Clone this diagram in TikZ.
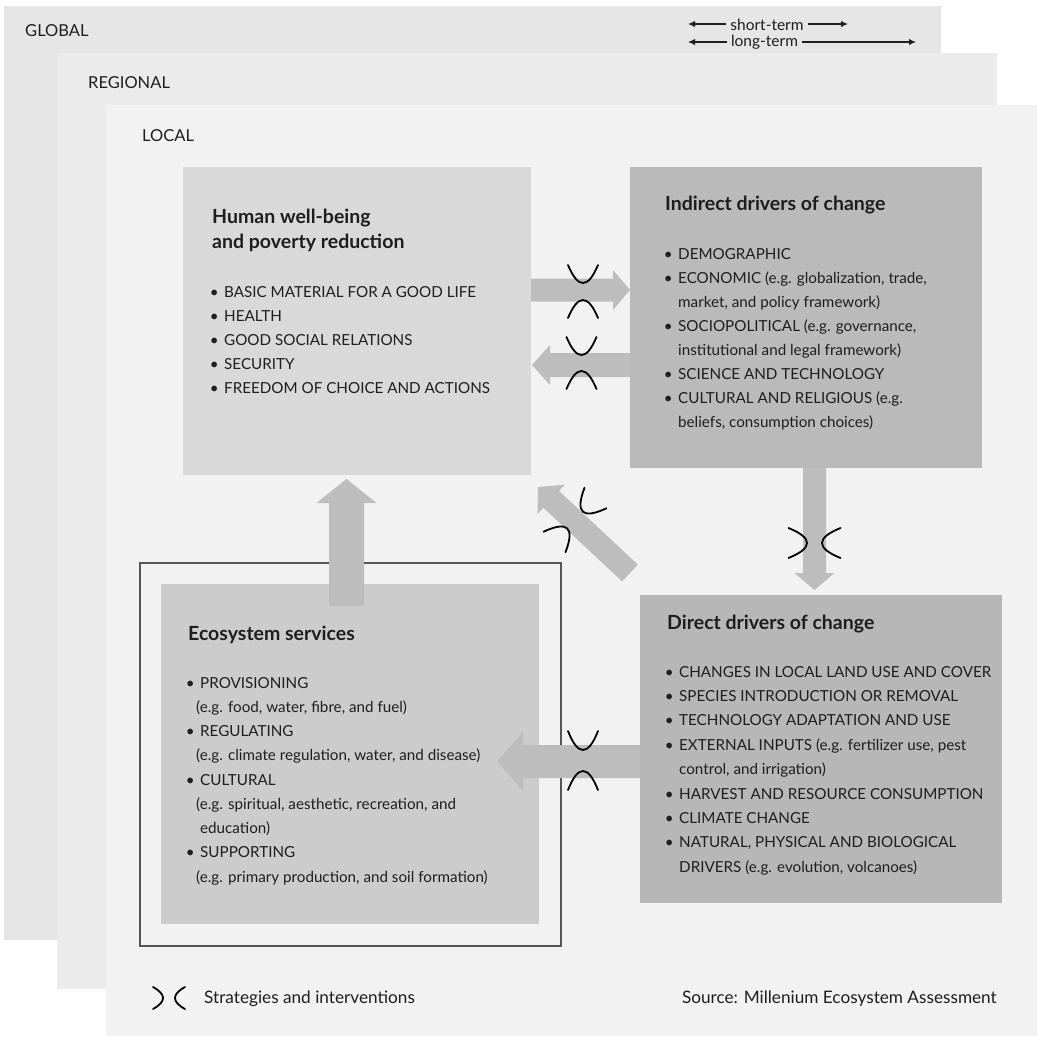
\documentclass[tikz,border=0pt]{standalone}
\usepackage{fontspec}
\setmainfont{Lato}
\usetikzlibrary{calc,arrows.meta}
\definecolor{gglobal}{HTML}{E6E6E6}
\definecolor{gregional}{HTML}{EBEBEB}
\definecolor{glocal}{HTML}{F2F2F2}
\definecolor{ghw}{HTML}{D9D9D9}
\definecolor{gind}{HTML}{BABABA}
\definecolor{gdir}{HTML}{B7B7B7}
\definecolor{geco}{HTML}{CCCCCC}
\definecolor{garrow}{HTML}{BDBDBD}
\definecolor{gframe}{HTML}{555555}
\definecolor{ink}{HTML}{1E1E1E}
\newcommand\fatarrow[5]{%
  \fill[garrow] ($(#1)!#3!90:(#2)$)
    -- ($(#2)!#5!(#1)!#3!90:(#2)$)
    -- ($(#2)!#5!(#1)!#4!90:(#2)$)
    -- (#2)
    -- ($(#2)!#5!(#1)!#4!-90:(#2)$)
    -- ($(#2)!#5!(#1)!#3!-90:(#2)$)
    -- ($(#1)!#3!-90:(#2)$) -- cycle;}
\newcommand\brkpair[6]{% cx cy angle voff eoff halfwidth
  \begin{scope}[shift={(#1,#2)},rotate=#3]
    \pgfmathsetmacro\brkC{(#5-4*#4)/3}
    \pgfmathsetmacro\brkN{-(#5-4*#4)/3}
    \pgfmathsetmacro\brkX{#6/3}
    \draw[brk] (-#6,-#5) .. controls (-\brkX,\brkC) and (\brkX,\brkC) .. (#6,-#5);
    \draw[brk] (-#6,#5) .. controls (-\brkX,\brkN) and (\brkX,\brkN) .. (#6,#5);
  \end{scope}}
\newcommand\bul{\llap{\textbullet\hspace{5.5pt}}}
\tikzset{
  panel/.style={rectangle, draw=none, inner sep=0pt, outer sep=0pt, anchor=north west},
  box/.style={rectangle, draw=none, inner sep=0pt, outer sep=0pt, anchor=north west},
  framebox/.style={rectangle, draw=gframe, line width=1.8pt, inner sep=0pt, outer sep=0pt, anchor=north west},
  lbl/.style={font=\fontsize{16.5}{19}\selectfont, text=ink, inner sep=0pt, anchor=base west},
  item/.style={font=\fontsize{15.2}{18}\selectfont, text=ink, inner sep=0pt, anchor=base west},
  foot/.style={font=\fontsize{17.2}{20}\selectfont, text=ink, inner sep=0pt, anchor=base west},
  ttl/.style={font=\fontsize{19.5}{24}\selectfont\bfseries, text=ink, inner sep=0pt, anchor=base west},
  brk/.style={draw=black, line width=1.8pt, line cap=round},
  termtxt/.style={font=\fontsize{15.5}{18}\selectfont, text=ink, inner ysep=0pt, inner xsep=4pt, anchor=base},
  termline/.style={draw=ink, line width=1.5pt, -{Latex[length=7pt,width=6.5pt]}},
}
\begin{document}
\begin{tikzpicture}[x=1pt,y=-1pt]
\useasboundingbox (0,0) rectangle (1037,1037);
\fill[white] (0,0) rectangle (1037,1037);
% scale panels
\node[panel, fill=gglobal, minimum width=937pt, minimum height=934pt] (glob) at (4,6) {};
\node[lbl] (globlbl) at (25,36) {GLOBAL};
\node[panel, fill=gregional, minimum width=940pt, minimum height=936pt] (reg) at (57,53) {};
\node[lbl] (reglbl) at (88,88) {REGIONAL};
\node[panel, fill=glocal, minimum width=931pt, minimum height=931pt] (loc) at (106,105) {};
\node[lbl] (loclbl) at (142,141) {LOCAL};
% time legend
\node[termtxt] (st) at (767,30) {short-term};
\node[termtxt] (lt) at (764.5,46) {long-term};
\coordinate (stl) at (688,24);
\coordinate (str) at (848,24);
\coordinate (ltl) at (688,42);
\coordinate (ltr) at (916,42);
\draw[termline] (st.west |- stl) -- (stl);
\draw[termline] (st.east |- str) -- (str);
\draw[termline] (lt.west |- ltl) -- (ltl);
\draw[termline] (lt.east |- ltr) -- (ltr);
% boxes
\node[framebox, fill=glocal, minimum width=421pt, minimum height=383pt] (frame) at (140,563) {};
\node[box, fill=ghw, minimum width=348pt, minimum height=308pt] (hw) at (183,167) {};
\node[box, fill=gind, minimum width=352pt, minimum height=301pt] (ind) at (630,167) {};
\node[box, fill=gdir, minimum width=362pt, minimum height=308pt] (dir) at (640,595) {};
\node[box, fill=geco, minimum width=378pt, minimum height=340pt] (eco) at (161,584) {};
% connectors
\coordinate (a1s) at (hw.east |- 0,290);
\coordinate (a1e) at (ind.west |- 0,290);
\coordinate (a2s) at (ind.west |- 0,365);
\coordinate (a2e) at (532,365);
\coordinate (a3s) at (814.5,0 |- ind.south);
\coordinate (a3e) at (814.5,590);
\coordinate (a4s) at (346.5,606);
\coordinate (a4e) at (346.5,479);
\coordinate (a5s) at (dir.west |- 0,761.5);
\coordinate (a5e) at (497,761.5);
\coordinate (a6s) at (630,573);
\coordinate (a6e) at (538,487);
\fatarrow{a1s}{a1e}{11.5pt}{20pt}{17pt}
\fatarrow{a2s}{a2e}{12pt}{20pt}{18pt}
\fatarrow{a3s}{a3e}{11.5pt}{20pt}{17pt}
\fatarrow{a4s}{a4e}{17.5pt}{30pt}{24pt}
\fatarrow{a5s}{a5e}{16.5pt}{29.5pt}{26pt}
\fatarrow{a6s}{a6e}{11.5pt}{20pt}{18pt}
% strategies and interventions marks
\brkpair{583}{291.5}{0}{8.5}{26.5}{15}
\brkpair{581.5}{363}{0}{8}{26}{15}
\brkpair{814.5}{543}{90}{7.5}{26}{15}
\brkpair{583}{760.5}{0}{10.5}{29.5}{15}
\brkpair{575}{520}{137}{11.5}{30}{15}
% titles
\node[ttl] (hwt1) at (212,223) {Human well-being};
\node[ttl] (hwt2) at (212,248) {and poverty reduction};
\node[ttl] (indt) at (665,210) {Indirect drivers of change};
\node[ttl] (dirt) at (667,629) {Direct drivers of change};
\node[ttl] (ecot) at (188,640) {Ecosystem services};
% lists
\foreach \t [count=\i from 0] in {BASIC MATERIAL FOR A GOOD LIFE, HEALTH, GOOD SOCIAL RELATIONS, SECURITY, FREEDOM OF CHOICE AND ACTIONS}
  \node[item] (hwl\i) at (224,297+24.1*\i) {\bul\t};
\foreach \t [count=\i from 0] in {{\bul DEMOGRAPHIC},{\bul ECONOMIC (e.g. globalization, trade,}, {market, and policy framework)}, {\bul SOCIOPOLITICAL (e.g. governance,}, {institutional and legal framework)}, {\bul SCIENCE AND TECHNOLOGY}, {\bul CULTURAL AND RELIGIOUS (e.g.}, {beliefs, consumption choices)}}
  \node[item] (indl\i) at (678,259+24.1*\i) {\t};
\foreach \t [count=\i from 0] in {{\bul CHANGES IN LOCAL LAND USE AND COVER}, {\bul SPECIES INTRODUCTION OR REMOVAL}, {\bul TECHNOLOGY ADAPTATION AND USE}, {\bul EXTERNAL INPUTS (e.g. fertilizer use, pest}, {control, and irrigation)}, {\bul HARVEST AND RESOURCE CONSUMPTION}, {\bul CLIMATE CHANGE}, {\bul NATURAL, PHYSICAL AND BIOLOGICAL}, {DRIVERS (e.g. evolution, volcanoes)}}
  \node[item] (dirl\i) at (679,677+24.4*\i) {\t};
\foreach \t [count=\i from 0] in {{\bul PROVISIONING}, {\hspace{-4pt}(e.g. food, water, fibre, and fuel)}, {\bul REGULATING}, {\hspace{-4pt}(e.g. climate regulation, water, and disease)}, {\bul CULTURAL}, {\hspace{-4pt}(e.g. spiritual, aesthetic, recreation, and}, {education)}, {\bul SUPPORTING}, {\hspace{-4pt}(e.g. primary production, and soil formation)}}
  \node[item] (ecol\i) at (200,688+24.25*\i) {\t};
% bottom legend
\brkpair{169}{998}{90}{6}{16}{11}
\node[foot] (strat) at (204,1003) {Strategies and interventions};
\node[foot, anchor=base east] (src) at (997,1003) {Source: Millenium Ecosystem Assessment};
\end{tikzpicture}
\end{document}
